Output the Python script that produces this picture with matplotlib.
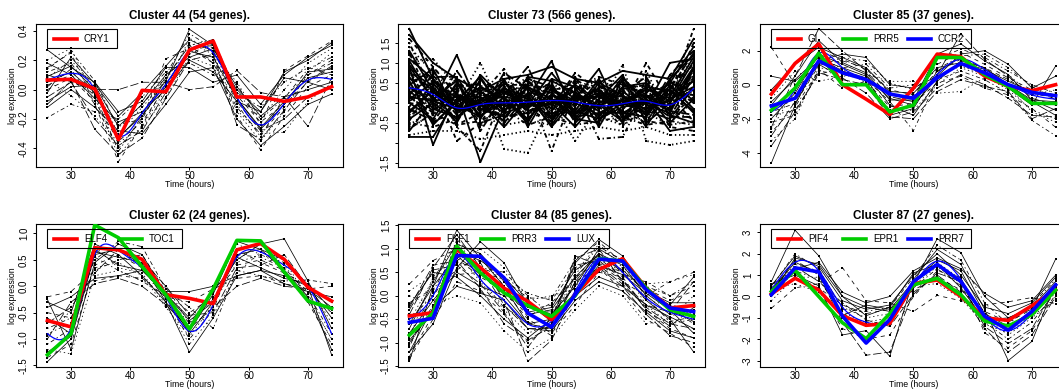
"""
Gene expression clusters over time: black lines are member genes, the thin
blue curve is the cluster mean, thick coloured lines are highlighted clock genes.
"""
import numpy as np
import matplotlib
matplotlib.use("Agg")
import matplotlib.pyplot as plt
from matplotlib.patches import Rectangle
from matplotlib.lines import Line2D

plt.rcParams["font.family"] = ["Liberation Sans", "DejaVu Sans"]
plt.rcParams["axes.unicode_minus"] = False
plt.rcParams["lines.scale_dashes"] = False

TIME = [26, 30, 34, 38, 42, 46, 50, 54, 58, 62, 66, 70, 74]

# ---- Cluster 44 ----
C44_GENES = [
    [0.05, 0.12, -0.02, -0.32, -0.18, 0.04, 0.26, 0.22, -0.06, -0.26, -0.08, 0.08, 0.12],
    [0.15, 0.25, -0.10, -0.40, -0.20, 0.08, 0.30, 0.18, -0.12, -0.30, -0.12, 0.10, 0.20],
    [-0.08, 0.02, 0.03, -0.25, -0.10, 0.10, 0.22, 0.28, 0.02, -0.18, -0.05, 0.00, 0.05],
    [0.20, 0.28, -0.05, -0.45, -0.25, 0.00, 0.35, 0.25, -0.15, -0.35, -0.15, 0.12, 0.25],
    [-0.19, -0.10, -0.15, -0.20, -0.05, 0.12, 0.18, 0.10, -0.02, -0.12, 0.05, 0.15, 0.10],
    [0.10, 0.05, -0.20, -0.38, -0.28, -0.02, 0.28, 0.30, -0.08, -0.28, -0.20, -0.05, 0.02],
    [0.27, 0.15, 0.05, -0.15, -0.08, 0.15, 0.15, 0.05, 0.10, -0.10, 0.10, 0.22, 0.30],
    [0.00, 0.08, -0.08, -0.35, -0.22, 0.02, 0.24, 0.32, -0.04, -0.22, -0.10, 0.05, 0.15],
    [-0.12, 0.00, -0.12, -0.28, -0.30, -0.10, 0.12, 0.15, -0.20, -0.38, -0.25, -0.10, -0.03],
    [0.08, 0.20, 0.02, -0.30, -0.12, 0.06, 0.32, 0.24, 0.05, -0.20, 0.00, 0.18, 0.28],
    [0.12, 0.18, -0.03, -0.42, -0.18, 0.10, 0.38, 0.28, -0.10, -0.32, -0.05, 0.10, 0.18],
    [-0.05, 0.05, 0.00, 0.00, 0.05, 0.05, 0.00, 0.02, 0.13, -0.02, -0.05, -0.25, 0.08],
    [0.18, 0.10, -0.06, -0.22, -0.15, 0.00, 0.20, 0.12, -0.08, -0.15, 0.08, 0.05, 0.00],
    [0.02, 0.14, -0.10, -0.49, -0.24, 0.03, 0.27, 0.20, -0.18, -0.41, -0.18, 0.02, 0.10],
    [-0.02, 0.22, 0.04, -0.18, -0.02, 0.16, 0.34, 0.26, 0.00, -0.15, 0.12, 0.20, 0.32],
    [0.06, -0.04, -0.18, -0.36, -0.26, -0.05, 0.22, 0.16, -0.14, -0.30, -0.29, -0.08, 0.04],
    [0.14, 0.26, 0.06, -0.26, -0.10, 0.08, 0.30, 0.34, -0.02, -0.20, -0.06, 0.14, 0.22],
    [-0.10, 0.06, -0.27, -0.44, -0.33, -0.06, 0.20, 0.24, -0.24, -0.34, -0.14, 0.06, 0.16],
    [0.09, 0.16, 0.00, -0.33, -0.16, 0.06, 0.41, 0.30, -0.06, -0.27, -0.10, 0.12, 0.14],
    [0.03, 0.10, -0.04, -0.24, -0.20, 0.21, 0.28, 0.18, 0.04, -0.24, 0.13, 0.23, 0.33],
]
C44_MEAN = [0.065, 0.11, 0.0, -0.31, -0.16, 0.035, 0.265, 0.25, -0.05, -0.24, -0.095, 0.065, 0.07]
C44_CRY1 = [0.065, 0.07, 0.005, -0.34, -0.005, -0.015, 0.27, 0.33, -0.05, -0.05, -0.08, -0.05, 0.02]

# ---- Cluster 73 ----
C73_GENES = [
    [1.85, 0.6, -0.2, 0.1, 0.3, -0.1, 0.2, 0.0, -0.3, 0.1, 0.2, -0.2, 0.9],
    [1.6, 0.9, 0.2, -0.3, 0.5, 0.1, -0.2, 0.4, 0.0, -0.4, 0.3, 0.1, 1.5],
    [1.3, 0.3, -0.5, 0.6, -0.2, 0.4, 0.1, -0.3, 0.5, 0.2, -0.3, 0.6, 1.2],
    [1.0, 1.1, 0.4, -0.1, 0.2, -0.4, 0.6, 0.2, -0.2, 0.4, 0.0, -0.1, 0.7],
    [0.8, -0.2, 0.3, -0.6, 0.1, 0.6, -0.3, 0.1, 0.3, -0.5, 0.5, 0.2, 1.85],
    [0.6, 0.4, -0.3, 0.3, -0.5, 0.2, 0.5, -0.5, 0.1, 0.3, -0.2, -0.4, 0.4],
    [0.4, 0.0, 1.2, -0.2, 0.4, -0.2, 0.0, 0.3, -0.4, 0.0, 0.4, 0.3, -0.2],
    [0.2, 0.7, -0.1, 0.4, 0.0, 0.3, -0.5, 0.6, 0.2, -0.2, -0.5, 0.5, 0.3],
    [0.0, -0.4, 0.5, -0.4, 0.6, -0.6, 0.4, -0.2, 0.6, -0.3, 0.2, -0.5, 0.1],
    [-0.3, 0.2, 0.0, 1.0, -0.3, 0.5, 0.2, -0.1, -0.2, 0.5, -0.4, 0.1, 0.6],
    [-0.5, -0.6, -0.4, 0.2, 0.85, -0.3, 0.3, 0.5, 0.0, -0.6, 0.6, -0.2, -0.4],
    [-0.7, 0.1, 0.6, -0.7, 0.2, 0.9, -0.4, 0.0, 0.4, 0.2, -0.6, 0.4, 0.0],
    [-0.85, -0.85, 0.1, 0.0, -0.6, 0.1, 1.05, -0.4, -0.5, 0.6, 0.1, -0.7, -0.6],
    [1.2, 0.5, -0.95, -0.5, 0.4, -0.2, -0.1, 0.75, 0.3, -0.1, 1.0, 0.0, 0.8],
    [0.9, -1.05, 0.3, -1.48, -0.1, 0.2, -0.6, 0.1, 0.85, -0.4, -0.1, 1.0, 1.1],
    [0.7, 0.3, 0.4, 0.5, -1.15, -1.25, 0.0, -0.95, -0.1, 0.95, -0.95, -1.05, -0.95],
    [0.5, 0.8, -0.6, -1.2, 0.3, 0.4, -1.2, 0.3, -0.9, -0.85, 0.3, 0.2, 0.2],
    [0.3, -0.2, 0.8, 0.0, -0.4, 0.6, 0.4, -0.3, 0.2, 0.0, -0.3, 0.7, 1.3],
    [0.1, 0.5, -0.2, 0.7, 0.1, -0.5, 0.6, 0.4, -0.6, 0.4, 0.5, -0.3, -0.5],
    [-0.1, 0.9, 0.2, -0.2, 0.5, 0.0, -0.3, 0.2, 0.5, -0.3, 0.0, 0.4, 0.5],
    [-0.4, 0.0, -0.4, 0.3, -0.2, 0.4, 0.0, -0.6, 0.1, 0.7, -0.5, 0.0, 0.9],
    [0.5, -0.3, 0.2, -0.4, 0.7, -0.3, 0.5, 0.1, -0.3, -0.2, 0.8, -0.4, 0.0],
    [1.5, 0.2, -0.1, 0.2, -0.1, 0.2, -0.2, 0.5, 0.0, 0.2, -0.1, 0.2, 1.0],
    [0.2, -0.5, 0.0, -0.3, 0.0, -0.1, 0.1, -0.4, 0.4, -0.5, 0.1, -0.2, -0.3],
    [-0.2, 0.3, -0.2, 0.0, 0.3, 0.1, -0.4, 0.2, -0.1, 0.3, -0.2, 0.1, 0.4],
    [0.0, -0.1, 0.3, -0.5, -0.3, 0.5, 0.3, 0.0, 0.2, 0.1, 0.4, -0.6, -0.7],
    [1.1, 0.6, 0.0, 0.4, 0.1, -0.4, 0.2, -0.2, -0.4, -0.1, 0.0, 0.5, 1.4],
    [-0.6, -0.3, 0.5, 0.1, -0.5, 0.0, -0.2, 0.3, 0.6, -0.6, 0.2, -0.1, 0.2],
    [0.35, 0.15, -0.45, 0.25, 0.45, -0.25, 0.15, -0.35, 0.05, 0.35, -0.45, 0.25, 0.55],
    [0.75, 0.45, 0.15, -0.15, -0.05, 0.35, -0.15, 0.45, -0.25, 0.05, 0.25, -0.15, 0.75],
    [-0.25, 0.35, -0.05, -0.35, 0.15, -0.45, 0.35, 0.05, 0.35, -0.25, -0.35, 0.45, -0.15],
    [0.15, -0.25, 0.45, 0.45, -0.35, 0.25, -0.35, -0.15, -0.45, 0.45, 0.15, -0.05, 0.35],
    [1.7, 1.0, 0.6, 0.3, 0.6, 0.7, 0.9, 0.6, 0.5, 0.8, 0.7, 0.6, 1.6],
    [-0.8, -0.7, -0.7, -0.9, -0.8, -0.7, -0.8, -0.7, -0.6, -0.7, -0.6, -0.8, -0.8],
    [0.45, -0.45, -0.25, 0.55, 0.25, 0.05, -0.45, 0.55, 0.15, -0.45, 0.55, -0.35, 0.15],
    [0.95, 0.25, 0.35, -0.05, -0.45, 0.45, 0.25, -0.25, -0.05, 0.55, -0.15, 0.35, 1.25],
    [0.9, 0.1, 0.55, -0.35, 0.35, 0.15, -0.55, 0.25, -0.15, 0.65, -0.05, -0.25, 0.85],
    [-0.45, 0.55, 0.05, 0.35, -0.45, 0.55, 0.15, -0.05, 0.45, -0.15, 0.35, 0.15, -0.45],
    [0.65, -0.15, -0.35, 0.05, 0.55, -0.15, 0.45, -0.45, 0.25, 0.15, -0.25, 0.55, 0.05],
    [1.4, 0.75, 0.25, 0.55, 0.25, 0.65, 0.05, 0.35, 0.55, 0.35, 0.45, 0.25, 1.15],
    [-0.65, -0.25, -0.55, -0.45, -0.15, -0.55, -0.35, -0.55, -0.45, -0.35, -0.55, -0.45, -0.55],
    [0.25, 0.65, 0.65, -0.25, 0.75, 0.35, -0.05, 0.65, -0.35, 0.25, 0.65, -0.35, 0.65],
    [0.55, -0.55, 0.05, 0.65, -0.25, 0.65, 0.55, 0.25, -0.05, -0.45, 0.15, 0.35, -0.25],
    [0.05, 0.35, -0.55, -0.25, 0.35, -0.35, -0.25, -0.25, 0.35, 0.55, -0.45, -0.55, 0.45],
    [1.05, 0.05, 0.15, 0.15, -0.25, -0.05, 0.75, 0.05, 0.25, -0.05, 0.35, 0.05, 1.05],
    [-0.35, 0.15, 0.35, -0.55, 0.05, 0.25, -0.15, 0.15, -0.55, 0.15, -0.05, 0.25, 0.25],
    [0.85, 0.55, -0.15, 0.35, 0.45, 0.45, 0.35, 0.35, 0.65, 0.45, 0.25, 0.45, 0.95],
    [-0.15, -0.45, 0.25, -0.15, -0.35, -0.25, 0.05, -0.35, -0.25, -0.25, 0.05, -0.35, -0.35],
    [0.45, 0.85, -0.25, 0.05, 0.15, 0.05, -0.35, 0.15, 0.15, 0.05, -0.15, 0.05, 0.55],
    [1.25, -0.05, 0.45, 0.25, -0.05, 0.35, 0.25, -0.05, -0.15, 0.35, 0.45, -0.05, 0.35],
    [0.15, 0.05, -0.15, -0.05, 0.25, -0.05, -0.05, 0.45, 0.05, -0.05, 0.05, 0.15, 1.15],
    [-0.55, -0.15, -0.35, 0.45, -0.55, -0.45, -0.55, -0.15, -0.35, -0.55, -0.25, -0.55, -0.45],
]
C73_MEAN = [0.375, 0.21, -0.125, -0.04, 0.0, 0.02, 0.06, 0.02, -0.07, -0.02, 0.04, -0.05, 0.36]

# ---- Cluster 85 ----
C85_GENES = [
    [-4.6, -1.2, 1.5, 1.0, 0.5, -0.8, -1.2, 0.4, 1.2, 0.8, 0.0, -0.9, -1.5],
    [2.2, 0.0, 1.2, 1.4, 1.0, -0.5, -0.8, 0.8, 1.5, 1.0, 0.3, -0.5, -0.8],
    [0.5, 0.2, 1.4, 1.8, 1.6, 0.0, -0.2, 0.5, 1.8, 2.0, 1.2, -0.2, 0.5],
    [-3.3, -2.0, 1.0, 0.8, 0.2, -1.5, -1.5, 0.0, 1.0, 0.5, -0.3, -1.5, -2.0],
    [-2.8, -1.3, 0.8, 0.6, 0.3, -1.0, -2.7, 0.3, 0.8, 0.3, -0.5, -2.1, -3.0],
    [-2.5, 0.5, 3.3, 2.0, 0.8, -0.7, -1.0, 0.6, 3.0, 1.5, 0.5, -0.8, -1.2],
    [-2.0, -0.5, 1.8, 1.2, 0.6, -1.2, -1.8, 0.2, 1.4, 1.0, 0.0, -1.0, -1.8],
    [-1.5, -0.8, 2.0, 1.5, 0.9, -0.3, -0.6, 1.2, 1.9, 1.2, 0.4, -0.3, -0.6],
    [-1.0, 0.3, 1.6, 0.8, 0.4, -1.8, -1.4, 0.8, 1.6, 0.7, -0.2, -1.2, 1.1],
    [-0.8, 0.8, 0.2, 0.5, 0.6, 0.2, 0.2, -0.5, -0.4, 0.4, 0.6, -0.6, -0.3],
    [-1.8, -1.5, 0.6, 1.0, 1.2, -0.2, 0.0, 1.5, 2.1, 1.6, 0.8, 0.0, -0.5],
    [-3.0, -1.0, 1.2, 0.4, -0.5, -2.0, -1.6, -0.2, 0.6, 0.0, -0.8, -1.8, -1.9],
    [-0.3, 1.2, 2.2, 1.6, 1.0, -0.4, -0.5, 1.0, 1.3, 0.9, 0.2, -0.4, 0.0],
    [-2.2, -1.8, 0.9, -0.2, 0.2, -1.3, -1.1, 0.1, 0.5, -0.2, -0.6, -1.4, -2.5],
    [-1.2, 0.5, 2.6, 1.3, 0.7, -0.9, -0.9, 1.8, 2.4, 1.4, 0.6, -0.9, -1.0],
    [-2.6, -0.3, 1.7, 0.9, 0.1, -1.6, -1.3, 0.5, 1.1, 0.6, -0.1, -1.6, -2.2],
    [-1.6, -1.1, 1.1, 1.6, 1.4, 0.1, -0.3, 0.9, 1.7, 1.8, 1.0, -0.1, -0.9],
    [-3.6, -1.6, 0.7, 0.3, 0.0, -1.9, -2.0, -0.4, 0.3, -0.1, -0.4, -2.0, -1.4],
]
C85_MEAN = [-1.6, -0.3, 1.85, 1.0, 0.35, -0.45, -0.65, 0.6, 1.5, 0.9, 0.05, -0.6, -0.85]
C85_GI = [-0.55, 1.25, 2.4, 0.0, -0.85, -1.75, -0.2, 1.8, 1.65, 0.5, -0.1, -0.35, 0.0]
C85_PRR5 = [-1.5, -0.2, 1.85, 0.0, 0.0, -1.6, -1.2, 1.6, 1.6, 0.6, -0.1, -1.1, -1.1]
C85_CCR2 = [-1.25, -0.8, 1.4, 0.7, 0.3, -0.55, -0.8, 0.4, 1.25, 0.7, 0.0, -0.45, -0.65]

# ---- Cluster 62 ----
C62_GENES = [
    [-1.43, -1.0, 0.6, 0.7, 0.4, -0.2, -0.9, -0.3, 0.6, 0.7, 0.5, 0.0, -1.3],
    [-0.2, -0.1, 0.3, 0.5, 0.6, -0.1, -0.5, -0.2, 0.4, 0.5, 0.3, -0.1, -0.5],
    [-0.3, -0.5, 0.8, 0.6, 0.2, -0.3, -1.25, -0.6, 0.2, 0.3, 0.2, 0.0, -0.6],
    [-1.2, -1.28, 0.2, 0.3, 0.1, 0.0, -0.7, -0.1, 0.8, 0.6, 0.4, -0.2, -1.0],
    [-0.8, -0.6, 0.5, 0.85, 0.75, -0.05, -0.4, -0.8, 0.3, 0.2, 0.1, 0.12, 0.05],
    [-1.0, -0.3, 0.05, 0.15, 0.0, -0.35, -0.8, -0.4, 0.0, 0.15, 0.0, -0.05, -0.4],
    [-0.6, -0.9, 0.7, 0.4, 0.3, -0.15, -0.6, -0.1, 0.5, 0.8, 0.9, 0.1, -0.8],
    [-1.35, -1.1, 0.4, 0.6, 0.35, -0.25, -1.0, -0.45, 0.7, 0.45, 0.25, -0.3, -1.1],
    [-0.4, -0.2, 0.15, 0.2, 0.3, -0.1, -0.1, 0.0, 0.2, 0.3, 0.05, -0.1, -0.2],
    [-0.9, -0.7, 0.35, 0.45, 0.2, -0.4, -0.95, -0.35, 0.45, 0.6, 0.45, 0.05, -0.7],
    [-1.1, -0.8, 0.55, 0.3, 0.1, -0.2, -0.7, -0.25, 0.6, 0.55, 0.35, -0.15, -0.9],
    [-0.7, -0.4, 0.25, 0.7, 0.5, 0.0, -0.55, -0.5, 0.35, 0.4, 0.6, 0.0, -0.3],
    [-1.25, -0.95, 0.65, 0.55, 0.45, -0.3, -0.85, -0.15, 0.85, 0.7, 0.3, -0.2, -1.2],
    [-0.5, -0.6, 0.1, 0.2, 0.15, -0.2, -0.3, -0.05, 0.15, 0.2, 0.05, -0.05, 0.0],
    [-0.25, -1.2, 0.45, 0.8, 0.6, -0.15, -0.65, -0.3, 0.55, 0.35, 0.15, 0.05, -0.45],
    [-0.95, -0.45, 0.75, 0.35, 0.25, -0.35, -1.1, -0.55, 0.25, 0.65, 0.5, -0.25, -1.0],
]
C62_MEAN = [-0.9, -0.8, 0.6, 0.68, 0.35, -0.2, -0.85, -0.35, 0.55, 0.65, 0.4, 0.0, -0.9]
C62_ELF4 = [-0.65, -0.77, 0.73, 0.69, 0.51, -0.16, -0.23, -0.33, 0.69, 0.81, 0.51, -0.02, -0.28]
C62_TOC1 = [-1.3, -0.9, 1.16, 0.92, 0.37, -0.16, -0.81, -0.05, 0.87, 0.86, 0.27, -0.28, -0.42]

# ---- Cluster 84 ----
C84_GENES = [
    [-1.4, 0.2, 1.4, 0.8, 0.2, -0.6, -0.7, 0.3, 0.9, 0.5, -0.1, -0.5, -1.2],
    [0.25, 0.75, 1.0, 0.5, 0.0, -0.3, -0.2, 0.4, 0.7, 0.3, 0.0, 0.3, 0.5],
    [-1.2, -0.6, 0.6, 1.15, 0.7, -0.2, -0.4, 0.2, 1.0, 0.7, 0.2, -0.3, -0.8],
    [-0.9, 0.4, 0.9, 0.3, -0.3, -0.8, -0.6, 0.5, 1.1, 0.6, -0.2, -0.6, -0.5],
    [-0.5, 0.0, 0.7, 0.6, 0.4, 0.05, -0.1, 0.6, 0.8, 0.4, 0.3, 0.0, 0.2],
    [-1.0, -0.3, 1.2, 0.7, -0.1, -1.4, -0.95, 0.1, 0.6, 0.2, -0.4, -0.85, -1.0],
    [-0.2, 0.5, 0.4, 0.0, -0.5, -0.9, -0.5, 0.7, 1.2, 0.85, 0.1, -0.2, 0.4],
    [-1.3, -0.4, 0.8, 0.4, 0.1, -0.5, -0.8, -0.2, 0.5, 0.4, -0.3, -0.7, -0.9],
    [-0.7, 0.3, 1.1, 0.9, 0.3, -0.4, -0.3, 0.4, 0.9, 0.65, 0.0, -0.4, -0.3],
    [0.0, -0.2, 0.0, -0.15, -0.75, -1.2, -0.9, -0.3, 0.2, 0.0, -0.6, -0.5, 0.0],
    [-1.1, 0.1, 1.0, 0.6, 0.5, 0.0, -0.4, 0.2, 0.7, 0.5, 0.1, -0.25, -0.6],
    [-0.4, 0.6, 1.3, 0.6, -0.2, -0.7, -0.7, 0.8, 1.0, 0.3, -0.2, -0.35, 0.3],
    [-0.8, -0.1, 0.5, 0.2, 0.0, -0.6, -0.5, 0.0, 0.4, 0.2, -0.2, -0.45, -0.7],
    [-1.35, -0.5, 0.3, 0.1, -0.4, -1.0, -0.6, 0.3, 0.6, 0.1, -0.5, -0.8, -1.1],
    [-0.6, 0.2, 0.85, 0.45, 0.15, -0.35, -0.25, 0.55, 0.85, 0.55, 0.1, -0.15, -0.15],
    [0.1, 0.45, 0.75, 1.0, 0.6, -0.1, 0.0, 0.15, 0.5, 0.6, 0.25, 0.3, 0.45],
    [-1.05, -0.2, 1.05, 0.35, -0.25, -0.55, -0.85, 0.45, 1.05, 0.75, -0.05, -0.55, -0.45],
    [-0.3, 0.55, 0.65, 0.25, -0.35, -1.1, -0.45, 0.65, 0.75, 0.35, -0.3, -0.65, -0.25],
    [-0.95, -0.35, 0.95, 0.75, 0.4, -0.15, -0.55, 0.05, 0.65, 0.45, 0.05, -0.3, -0.55],
    [-0.15, 0.15, 0.55, 0.85, 0.2, -0.45, -0.15, 0.35, 0.95, 0.8, 0.15, -0.1, 0.1],
    [-1.2, -0.25, 0.2, 0.05, -0.1, -0.7, -0.75, -0.1, 0.3, 0.1, -0.35, -0.75, -0.9],
    [-0.55, 0.35, 1.15, 0.55, 0.05, -0.25, -0.35, 0.25, 0.8, 0.5, -0.1, -0.2, -0.4],
    [-0.85, 0.05, 0.45, 0.5, 0.35, -0.05, -0.05, 0.75, 1.15, 0.7, 0.2, 0.0, 0.3],
    [-0.25, 0.65, 0.75, 0.15, -0.6, -0.95, -0.65, 0.85, 0.65, 0.25, -0.25, -0.6, -0.7],
]
C84_MEAN = [-0.5, 0.0, 0.85, 0.35, -0.1, -0.6, -0.55, 0.1, 0.8, 0.5, -0.05, -0.35, -0.5]
C84_FKF1 = [-0.43, -0.36, 0.99, 0.6, 0.16, -0.12, -0.51, 0.02, 0.56, 0.79, 0.16, -0.26, -0.21]
C84_PRR3 = [-0.84, -0.37, 1.06, 0.49, 0.06, -0.21, -0.44, 0.0, 0.79, 0.74, 0.16, -0.3, -0.44]
C84_LUX = [-0.57, -0.48, 0.86, 0.84, 0.38, -0.37, -0.67, 0.02, 0.78, 0.74, 0.13, -0.26, -0.34]

# ---- Cluster 87 ----
C87_GENES = [
    [0.7, 3.1, 1.9, 0.0, -0.5, -0.7, 0.6, 2.7, 2.05, 0.0, -1.0, -0.6, 1.75],
    [-0.55, 0.4, 0.6, 1.35, -0.2, -0.3, -0.7, 0.05, -0.2, -0.4, -0.25, -0.05, -0.35],
    [0.5, 1.9, 1.4, -0.2, -0.6, -0.4, 1.0, 2.0, 1.0, -0.5, -0.8, -0.3, 0.9],
    [0.2, 1.5, 1.2, -0.5, -1.0, -0.8, 0.7, 1.6, 0.8, -0.9, -1.5, -0.8, 0.5],
    [0.0, 1.2, 0.8, -0.8, -1.4, -1.2, 0.4, 1.3, 0.5, -1.2, -2.0, -1.2, 0.2],
    [0.3, 1.7, 1.0, -1.2, -2.75, -2.6, 0.2, 1.0, 0.2, -1.5, -2.6, -1.8, 0.0],
    [0.6, 1.0, 0.5, -1.8, -1.6, -2.8, 0.8, 2.2, 1.5, -0.6, -3.0, -2.1, 0.6],
    [0.1, 0.8, 0.4, -0.4, -0.8, -0.6, 0.3, 0.9, 0.3, -0.7, -1.2, -0.6, 0.3],
    [0.4, 1.3, 1.6, 0.2, -0.3, 0.0, 1.2, 1.8, 1.3, 0.15, -0.5, -0.2, 1.0],
    [-0.2, 0.9, 0.9, -1.0, -1.2, -1.0, 0.5, 1.4, 0.6, -1.0, -1.8, -1.0, -0.1],
    [0.45, 2.0, 1.3, -0.6, -0.7, -0.5, 0.9, 2.4, 1.7, -0.3, -1.3, -0.4, 0.8],
    [0.15, 1.4, 0.7, -0.3, -1.1, -1.4, 0.1, 1.1, 0.7, -1.4, -2.2, -1.5, 0.4],
    [0.25, 1.6, 1.1, -0.9, -0.4, -0.6, 0.7, 1.7, 1.2, -0.8, -1.4, -0.7, 0.5],
    [0.55, 1.1, 0.3, -1.5, -2.0, -1.8, 0.0, 1.2, 0.9, -1.7, -2.4, -1.6, 0.1],
    [0.05, 1.8, 1.5, 0.0, -0.9, -0.5, 1.1, 1.5, 0.4, -1.1, -1.0, -0.5, 0.7],
    [0.35, 0.6, 0.2, -0.7, -1.3, -1.1, 0.5, 0.6, -0.1, -1.3, -1.7, -0.9, -0.2],
]
C87_MEAN = [0.3, 1.6, 1.2, -0.5, -1.2, -1.1, 0.5, 1.65, 0.8, -0.9, -1.6, -0.8, 0.6]
C87_PIF4 = [0.12, 0.85, 0.3, -0.9, -1.35, -1.26, 0.6, 0.77, 0.0, -1.0, -1.12, -0.43, 0.3]
C87_EPR1 = [0.23, 1.23, 0.0, -1.23, -1.97, -0.8, 0.54, 0.85, 0.08, -1.15, -1.38, -0.85, 0.3]
C87_PRR7 = [0.08, 1.34, 1.15, -0.92, -2.18, -1.08, 0.7, 1.5, 0.7, -0.92, -1.58, -0.7, 0.54]

RED, GREEN, BLUE = "#ff0000", "#00cd00", "#0000ff"

W, H = 1059, 389
AX_W, AX_H = 307, 143
DASHES = ["-", (0, (3, 3)), "-", (0, (1, 2)), (0, (1, 2, 3, 2)), (0, (6, 2))]


def natural_spline(x, y, xs):
    x = np.asarray(x, float)
    y = np.asarray(y, float)
    n = len(x)
    h = np.diff(x)
    A = np.zeros((n, n))
    r = np.zeros(n)
    A[0, 0] = A[-1, -1] = 1
    for i in range(1, n - 1):
        A[i, i - 1] = h[i - 1]
        A[i, i] = 2 * (h[i - 1] + h[i])
        A[i, i + 1] = h[i]
        r[i] = 6 * ((y[i + 1] - y[i]) / h[i] - (y[i] - y[i - 1]) / h[i - 1])
    m = np.linalg.solve(A, r)
    idx = np.clip(np.searchsorted(x, xs) - 1, 0, n - 2)
    x0, x1 = x[idx], x[idx + 1]
    hh = x1 - x0
    a = (x1 - xs) / hh
    b = (xs - x0) / hh
    return a * y[idx] + b * y[idx + 1] + ((a ** 3 - a) * m[idx] + (b ** 3 - b) * m[idx + 1]) * hh ** 2 / 6


def draw_legend(ax, entries):
    n = len(entries)
    if n == 0:
        return
    fx = lambda px: px / AX_W
    fy = lambda px: px / AX_H
    x0, top, h = 11, 5, 19
    ax.add_patch(Rectangle((fx(x0), 1 - fy(top + h)), fx(5 + 65 * n), fy(h),
                           transform=ax.transAxes, fill=False, ec="black", lw=0.8, zorder=6))
    yc = 1 - fy(top + h / 2)
    for i, (name, color) in enumerate(entries):
        ax.add_line(Line2D([fx(x0 + 7 + 65 * i), fx(x0 + 30 + 65 * i)], [yc, yc],
                           transform=ax.transAxes, color=color, lw=2.6, zorder=6))
        ax.text(fx(x0 + 37 + 65 * i), yc, name, transform=ax.transAxes,
                ha="left", va="center", fontsize=7, zorder=6)


def draw_panel(left, top, title, genes, mean, highlights, ylim, yticks, ylabels, lw=0.55):
    ax = fig.add_axes([left / W, (H - top - AX_H) / H, AX_W / W, AX_H / H])
    for i, g in enumerate(genes):
        ax.plot(TIME, g, color="black", lw=lw, ls=DASHES[i % len(DASHES)],
                marker="s", ms=1.5, mew=0, zorder=2)
    xs = np.linspace(TIME[0], TIME[-1], 300)
    ax.plot(xs, natural_spline(TIME, mean, xs), color=BLUE, lw=0.9, zorder=3)
    for name, vals, color in highlights:
        ax.plot(TIME, vals, color=color, lw=2.6, zorder=4, solid_joinstyle="round")
    draw_legend(ax, [(n, c) for n, _, c in highlights])

    ax.set_xlim(24.08, 75.92)
    ax.set_ylim(*ylim)
    ax.set_xticks([30, 40, 50, 60, 70])
    ax.set_yticks(yticks)
    ax.set_yticklabels(ylabels)
    for lab in ax.get_yticklabels():
        lab.set_rotation(90)
        lab.set_va("center")
    ax.tick_params(direction="out", length=2.3, width=0.7, labelsize=7)
    ax.tick_params(axis="x", pad=0.3)
    ax.tick_params(axis="y", pad=2.8)
    for s in ax.spines.values():
        s.set_linewidth(0.8)
    ax.set_title(title, fontsize=8.4, fontweight="bold", pad=3.5)
    ax.set_xlabel("Time (hours)", fontsize=6.3, labelpad=-0.6)
    ax.set_ylabel("log expression", fontsize=6.3, labelpad=1.5)
    return ax


fig = plt.figure(figsize=(W / 100, H / 100), dpi=100)

draw_panel(36, 24, "Cluster 44 (54 genes).", C44_GENES, C44_MEAN,
           [("CRY1", C44_CRY1, RED)],
           (-0.526, 0.446), [-0.4, -0.2, 0.0, 0.2, 0.4],
           ["-0.4", "-0.2", "0.0", "0.2", "0.4"])
draw_panel(398, 24, "Cluster 73 (566 genes).", C73_GENES, C73_MEAN, [],
           (-1.6, 1.97), [-1.5, -1.0, -0.5, 0.0, 0.5, 1.0, 1.5],
           ["-1.5", "", "-0.5", "", "0.5", "1.0", "1.5"], lw=1.3)
draw_panel(760, 24, "Cluster 85 (37 genes).", C85_GENES, C85_MEAN,
           [("GI", C85_GI, RED), ("PRR5", C85_PRR5, GREEN), ("CCR2", C85_CCR2, BLUE)],
           (-4.84, 3.57), [-4, -2, 0, 2], ["-4", "-2", "0", "2"])
draw_panel(36, 224, "Cluster 62 (24 genes).", C62_GENES, C62_MEAN,
           [("ELF4", C62_ELF4, RED), ("TOC1", C62_TOC1, GREEN)],
           (-1.53, 1.18), [-1.5, -1.0, -0.5, 0.0, 0.5, 1.0],
           ["-1.5", "-1.0", "-0.5", "0.0", "0.5", "1.0"])
draw_panel(398, 224, "Cluster 84 (85 genes).", C84_GENES, C84_MEAN,
           [("FKF1", C84_FKF1, RED), ("PRR3", C84_PRR3, GREEN), ("LUX", C84_LUX, BLUE)],
           (-1.52, 1.53), [-1.5, -1.0, -0.5, 0.0, 0.5, 1.0, 1.5],
           ["-1.5", "-1.0", "-0.5", "0.0", "0.5", "1.0", "1.5"])
draw_panel(760, 224, "Cluster 87 (27 genes).", C87_GENES, C87_MEAN,
           [("PIF4", C87_PIF4, RED), ("EPR1", C87_EPR1, GREEN), ("PRR7", C87_PRR7, BLUE)],
           (-3.3, 3.39), [-3, -2, -1, 0, 1, 2, 3],
           ["-3", "-2", "-1", "0", "1", "2", "3"])

fig.savefig("out.png", dpi=100)
